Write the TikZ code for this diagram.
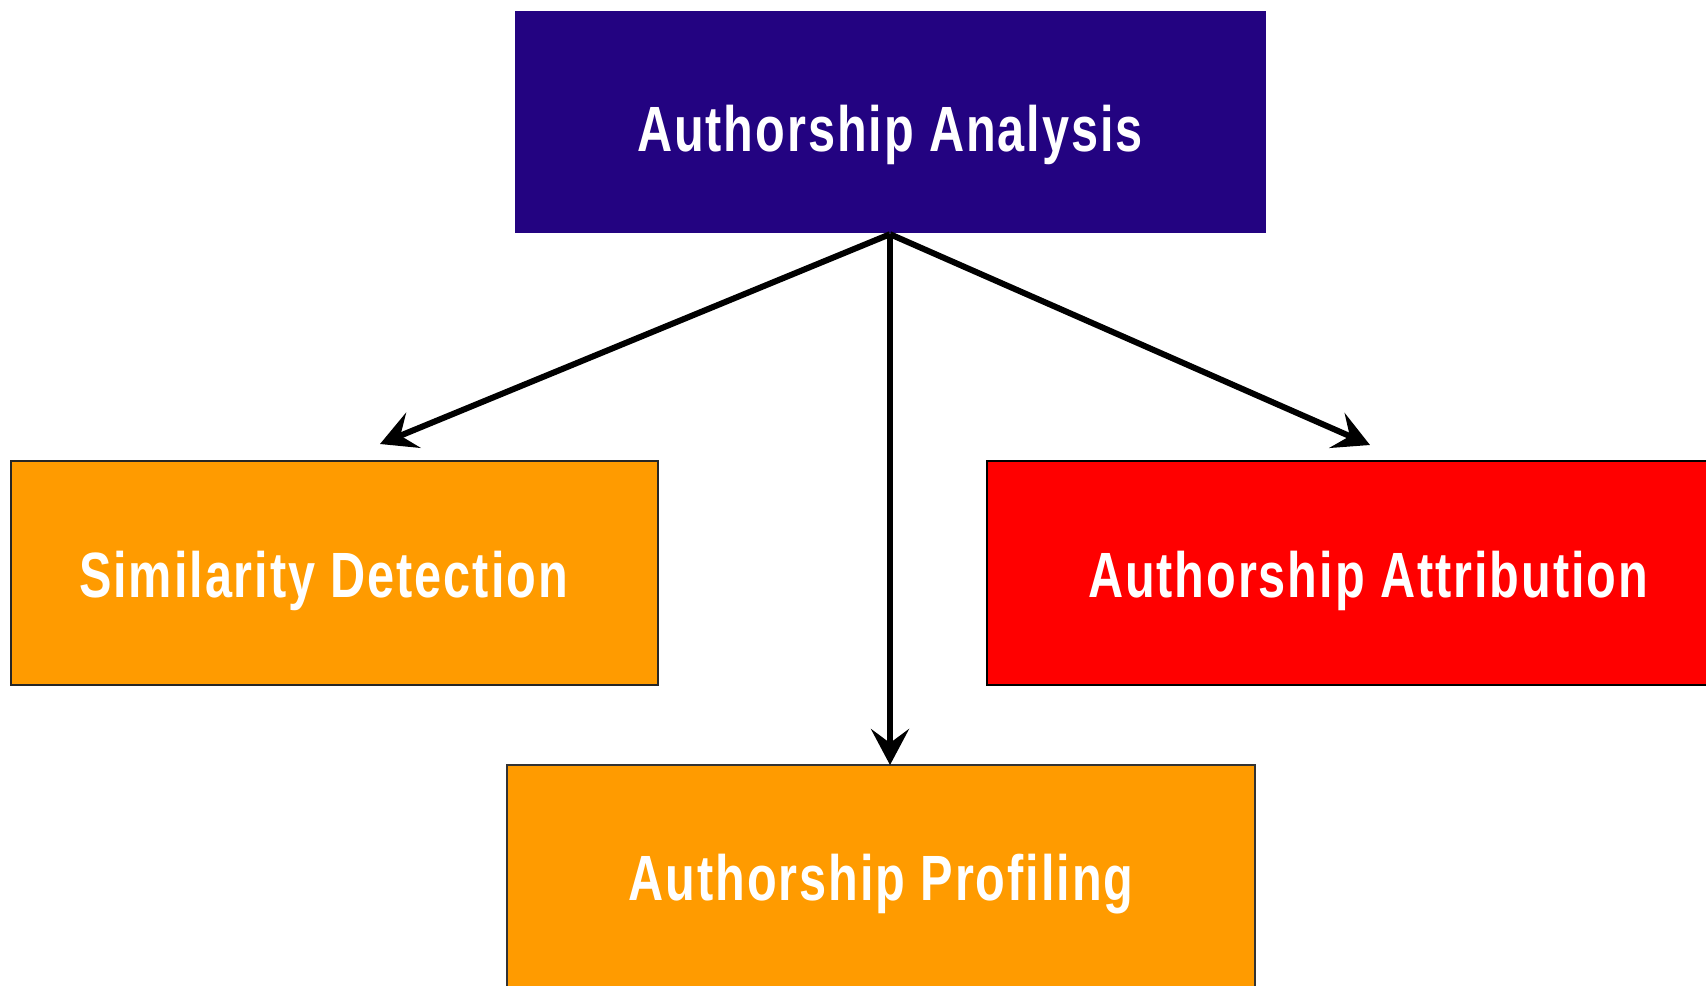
\documentclass[tikz,border=0pt]{standalone}
\usepackage{fontspec}
\newfontfamily\boxfont{Liberation Sans}[FakeStretch=0.76, LetterSpace=3]
\usetikzlibrary{arrows.meta}
\definecolor{indigo}{RGB}{35,3,129}
\definecolor{amber}{RGB}{255,155,0}
\begin{document}
\begin{tikzpicture}[x=0.5pt, y=-0.5pt,
    box/.style={rectangle, inner sep=0pt, line width=1.2pt, text=white, text depth=0pt,
      font=\boxfont\bfseries\fontsize{32}{38}\selectfont},
    link/.style={line width=3pt, -{Stealth[length=18pt, width=19pt, inset=7pt]}}]
        \clip (0, 0) rectangle (1706, 985);
        \node[box, fill=indigo, minimum width=375.5pt, minimum height=111pt, text height=29pt] (analysis) at (890, 122) {Authorship Analysis};
        \node[box, fill=amber, draw=black!85, minimum width=323.5pt, minimum height=112pt, text height=24.5pt] (similarity) at (334.5, 573) {Similarity Detection\hspace*{11pt}};
        \node[box, fill=red, draw=black, minimum width=381pt, minimum height=112pt, text height=24pt] (attribution) at (1368, 573) {Authorship Attribution};
        \node[box, fill=amber, draw=black!80, minimum width=374pt, minimum height=116pt, text height=19.5pt] (profiling) at (881, 881) {Authorship Profiling};
        \coordinate (simtip) at (380, 444);
        \coordinate (attrtip) at (1370, 445);
        \coordinate (proftip) at (890, 765);
        \draw[link] (analysis.south) -- (simtip);
        \draw[link] (analysis.south) -- (attrtip);
        \draw[link] (analysis.south) -- (proftip);
      \end{tikzpicture}
\end{document}
